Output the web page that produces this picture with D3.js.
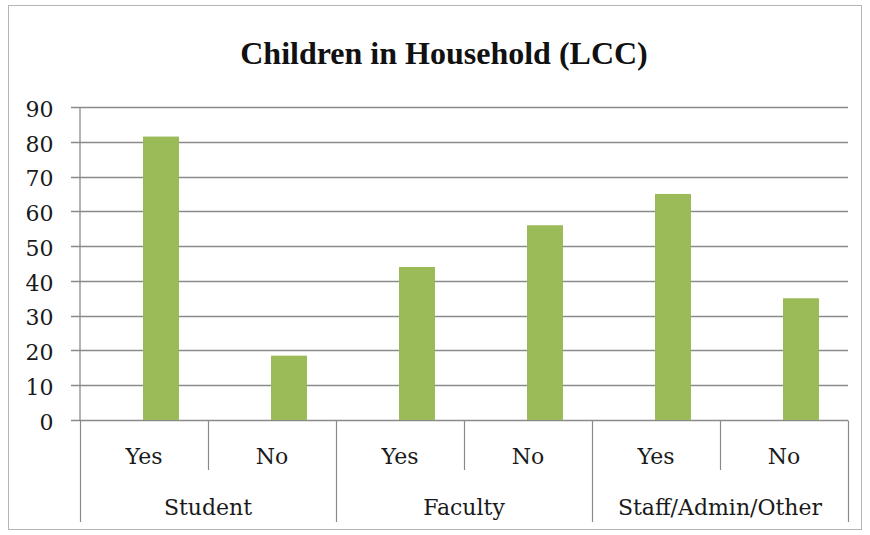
<!DOCTYPE html>
<html>
<head>
<meta charset="utf-8">
<script src="https://cdn.jsdelivr.net/npm/d3@7"></script>
<style>
  body { margin: 0; background: #fff; }
  .tick text { font-family: "DejaVu Serif", serif; }
</style>
</head>
<body>
<div id="chart"></div>
<script>
// chart data
var groups = ["Student", "Faculty", "Staff/Admin/Other"];
var answers = ["Yes", "No"];
var values = [81.5, 18.5, 44, 56, 65, 35];
var yTicks = [0, 10, 20, 30, 40, 50, 60, 70, 80, 90];

var w = 870, h = 535,
    m = [107, 22, 115, 80]; // top right bottom left

var cats = [];
groups.forEach(function(g) {
  answers.forEach(function(a) { cats.push(g + "|" + a); });
});

var svg = d3.select("#chart").append("svg")
    .attr("width", w)
    .attr("height", h);

// outer frame
svg.append("rect")
    .attr("x", 8.5).attr("y", 5.5)
    .attr("width", 853).attr("height", 524)
    .attr("fill", "#fff")
    .attr("stroke", "#b5b5b5");

svg.append("text")
    .attr("x", 444).attr("y", 64)
    .attr("text-anchor", "middle")
    .style("font-family", "'Liberation Serif', serif")
    .style("font-weight", "bold")
    .style("font-size", "32px")
    .attr("fill", "#111")
    .text("Children in Household (LCC)");

var x = d3.scaleBand()
    .domain(cats)
    .range([m[3], w - m[1]]);

var y = d3.scaleLinear()
    .domain([0, 90])
    .range([h - m[2], m[0]]);

var g = svg.append("g");

// gridlines
g.selectAll("line.grid")
    .data(yTicks)
  .enter().append("line")
    .attr("class", "grid")
    .attr("x1", m[3] - 9)
    .attr("x2", w - m[1])
    .attr("y1", function(d) { return Math.round(y(d)) + 0.5; })
    .attr("y2", function(d) { return Math.round(y(d)) + 0.5; })
    .attr("stroke", "#8a8a8a")
    .attr("stroke-width", 1.3);

// y axis
var yAxis = g.append("g")
    .attr("transform", "translate(" + (m[3] - 0.5) + ",0)")
    .call(d3.axisLeft(y).tickValues(yTicks).tickSize(0).tickPadding(26));
yAxis.select(".domain").attr("stroke", "#8a8a8a").attr("stroke-width", 1.3);
yAxis.selectAll(".tick text")
    .attr("dy", "0.42em")
    .style("font-size", "22px")
    .attr("fill", "#1a1a1a");

// bars (the original sits a bit right of each slot)
var barW = 36, barShift = 17;
g.selectAll("rect.bar")
    .data(values)
  .enter().append("rect")
    .attr("class", "bar")
    .attr("x", function(d, i) { return x(cats[i]) + x.bandwidth() / 2 - barW / 2 + barShift; })
    .attr("y", function(d) { return y(d); })
    .attr("width", barW)
    .attr("height", function(d) { return y(0) - y(d); })
    .attr("fill", "#9bbb59");

// category axis
var y0 = Math.round(y(0)) + 0.5;
var ax = svg.append("g").attr("stroke", "#8a8a8a").attr("stroke-width", 1.2);
cats.forEach(function(c, i) {
  var xl = Math.round(x(c)) + 0.5;
  var isGroupEdge = (i % answers.length === 0);
  ax.append("line")
    .attr("x1", xl).attr("x2", xl)
    .attr("y1", y0).attr("y2", isGroupEdge ? 522 : 470);
});
var xr = Math.round(x(cats[cats.length - 1]) + x.bandwidth()) + 0.5;
ax.append("line").attr("x1", xr).attr("x2", xr).attr("y1", y0).attr("y2", 522);

svg.selectAll("text.ans")
    .data(cats)
  .enter().append("text")
    .attr("class", "ans")
    .attr("x", function(c) { return x(c) + x.bandwidth() / 2; })
    .attr("y", 464)
    .attr("text-anchor", "middle")
    .style("font-family", "'DejaVu Serif', serif")
    .style("font-size", "22px")
    .attr("fill", "#1a1a1a")
    .text(function(c) { return c.split("|")[1]; });

svg.selectAll("text.grp")
    .data(groups)
  .enter().append("text")
    .attr("class", "grp")
    .attr("x", function(gname) {
      return x(gname + "|" + answers[0]) + x.bandwidth() * answers.length / 2;
    })
    .attr("y", 515)
    .attr("text-anchor", "middle")
    .style("font-family", "'DejaVu Serif', serif")
    .style("font-size", "22px")
    .attr("fill", "#1a1a1a")
    .text(function(gname) { return gname; });
</script>
</body>
</html>
